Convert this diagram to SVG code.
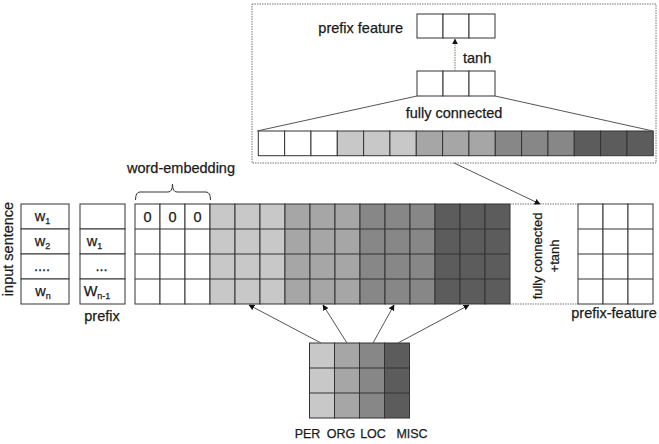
<svg xmlns="http://www.w3.org/2000/svg" width="659" height="444" viewBox="0 0 659 444">
<style>
text{font-family:"Liberation Sans","Open Sans",sans-serif;fill:#1a1a1a;stroke:#1a1a1a;stroke-width:0.25;}
.lbl{font-size:14.5px;}
.cell{stroke:#333;stroke-width:1;}
.w{fill:#fff;}
.c1{fill:#c8c8c8;}
.c2{fill:#a6a6a6;}
.c3{fill:#878787;}
.c4{fill:#5c5c5c;}
.dot{fill:none;stroke:#777;stroke-width:1;stroke-dasharray:1.5 1;}
.conn{fill:none;stroke:#555;stroke-width:1;}
.sub{font-size:9px;}
</style>
<defs>
<marker id="ah" viewBox="0 0 10 10" refX="9" refY="5" markerWidth="6" markerHeight="6" orient="auto-start-reverse" markerUnits="userSpaceOnUse">
<path d="M0,0 L10,5 L0,10 z" fill="#111"/>
</marker>
</defs>
<rect width="659" height="444" fill="#fff"/>

<g id="detail-box">
<rect x="252" y="4" width="404" height="159" class="dot"/>
<g id="prefix-feature-top">
<rect x="417" y="14" width="26" height="24" class="cell w"/>
<rect x="443" y="14" width="26" height="24" class="cell w"/>
<rect x="469" y="14" width="26" height="24" class="cell w"/>
<text x="403" y="33" class="lbl" text-anchor="end">prefix feature</text>
</g>
<g id="hidden-top">
<rect x="417" y="71" width="26" height="25" class="cell w"/>
<rect x="443" y="71" width="26" height="25" class="cell w"/>
<rect x="469" y="71" width="26" height="25" class="cell w"/>
<text x="463" y="63" class="lbl">tanh</text>
<text x="454" y="118" class="lbl" text-anchor="middle">fully connected</text>
</g>
<g id="strip-top">
<rect x="258.3" y="131" width="26.33" height="24.7" class="cell w"/>
<rect x="284.63" y="131" width="26.33" height="24.7" class="cell w"/>
<rect x="310.96" y="131" width="26.33" height="24.7" class="cell w"/>
<rect x="337.29" y="131" width="26.33" height="24.7" class="cell c1"/>
<rect x="363.62" y="131" width="26.33" height="24.7" class="cell c1"/>
<rect x="389.95" y="131" width="26.33" height="24.7" class="cell c1"/>
<rect x="416.28" y="131" width="26.33" height="24.7" class="cell c2"/>
<rect x="442.61" y="131" width="26.33" height="24.7" class="cell c2"/>
<rect x="468.94" y="131" width="26.33" height="24.7" class="cell c2"/>
<rect x="495.27" y="131" width="26.33" height="24.7" class="cell c3"/>
<rect x="521.6" y="131" width="26.33" height="24.7" class="cell c3"/>
<rect x="547.93" y="131" width="26.33" height="24.7" class="cell c3"/>
<rect x="574.26" y="131" width="26.33" height="24.7" class="cell c4"/>
<rect x="600.59" y="131" width="26.33" height="24.7" class="cell c4"/>
<rect x="626.92" y="131" width="26.33" height="24.7" class="cell c4"/>
</g>
</g>

<g id="input-sentence">
<rect x="21" y="204" width="48" height="25" class="cell w"/>
<rect x="21" y="229" width="48" height="25" class="cell w"/>
<rect x="21" y="254" width="48" height="25" class="cell w"/>
<rect x="21" y="279" width="48" height="25" class="cell w"/>
<text x="42.5" y="221" class="lbl" text-anchor="middle" font-size="13.5">w<tspan class="sub" dy="3">1</tspan></text>
<text x="42.5" y="246" class="lbl" text-anchor="middle" font-size="13.5">w<tspan class="sub" dy="3">2</tspan></text>
<text x="42" y="271" class="lbl" text-anchor="middle" font-size="12">....</text>
<text x="43" y="296" class="lbl" text-anchor="middle" font-size="13.5">w<tspan class="sub" dy="3">n</tspan></text>
<text transform="translate(13,249) rotate(-90)" class="lbl" text-anchor="middle" font-size="14">input sentence</text>
</g>

<g id="prefix">
<rect x="80" y="204" width="45" height="25" class="cell w"/>
<rect x="80" y="229" width="45" height="25" class="cell w"/>
<rect x="80" y="254" width="45" height="25" class="cell w"/>
<rect x="80" y="279" width="45" height="25" class="cell w"/>
<text x="94.5" y="246" class="lbl" text-anchor="middle" font-size="13.5">w<tspan class="sub" dy="3">1</tspan></text>
<text x="101.5" y="271" class="lbl" text-anchor="middle" font-size="12">...</text>
<text x="97" y="296" class="lbl" text-anchor="middle" font-size="13.5">W<tspan class="sub" dy="3">n-1</tspan></text>
<text x="102" y="321" class="lbl" text-anchor="middle">prefix</text>
</g>

<g id="word-embedding">
<path d="M135.5,200 Q135.5,192 140,192 L168,192 Q172.5,192 172.5,184 Q172.5,192 177,192 L206,192 Q210.5,192 210.5,200" fill="none" stroke="#333" stroke-width="1"/>
<text x="181" y="173" class="lbl" text-anchor="middle">word-embedding</text>
</g>

<g id="embedding-grid">
<rect x="135" y="204" width="25" height="100" class="cell w"/>
<rect x="160" y="204" width="25" height="100" class="cell w"/>
<rect x="185" y="204" width="25" height="100" class="cell w"/>
<rect x="210" y="204" width="25" height="100" class="cell c1"/>
<rect x="235" y="204" width="25" height="100" class="cell c1"/>
<rect x="260" y="204" width="25" height="100" class="cell c1"/>
<rect x="285" y="204" width="25" height="100" class="cell c2"/>
<rect x="310" y="204" width="25" height="100" class="cell c2"/>
<rect x="335" y="204" width="25" height="100" class="cell c2"/>
<rect x="360" y="204" width="25" height="100" class="cell c3"/>
<rect x="385" y="204" width="25" height="100" class="cell c3"/>
<rect x="410" y="204" width="25" height="100" class="cell c3"/>
<rect x="435" y="204" width="25" height="100" class="cell c4"/>
<rect x="460" y="204" width="25" height="100" class="cell c4"/>
<rect x="485" y="204" width="25" height="100" class="cell c4"/>
<path d="M135,229 H510 M135,254 H510 M135,279 H510" stroke="#333" stroke-width="1"/>
<text x="147.5" y="221.5" class="lbl" text-anchor="middle" font-size="14">0</text>
<text x="172.5" y="221.5" class="lbl" text-anchor="middle" font-size="14">0</text>
<text x="197.5" y="221.5" class="lbl" text-anchor="middle" font-size="14">0</text>
</g>

<g id="fc-tanh">
<path d="M510,204 H578 M510,304 H578" class="dot"/>
<text transform="translate(542,256) rotate(-90)" text-anchor="middle" font-size="13">fully connected</text>
<text transform="translate(559,256) rotate(-90)" text-anchor="middle" font-size="13">+tanh</text>
</g>

<g id="prefix-feature">
<rect x="578" y="204" width="25" height="100" class="cell w"/>
<rect x="603" y="204" width="25" height="100" class="cell w"/>
<rect x="628" y="204" width="25" height="100" class="cell w"/>
<path d="M578,229 H653 M578,254 H653 M578,279 H653" stroke="#333" stroke-width="1"/>
<text x="614" y="318" class="lbl" text-anchor="middle" font-size="14">prefix-feature</text>
</g>

<g id="entity-types">
<rect x="309.5" y="343" width="25" height="75" class="cell c1"/>
<rect x="334.5" y="343" width="25" height="75" class="cell c2"/>
<rect x="359.5" y="343" width="25" height="75" class="cell c3"/>
<rect x="384.5" y="343" width="25" height="75" class="cell c4"/>
<path d="M309.5,368 H409.5 M309.5,393 H409.5" stroke="#333" stroke-width="1"/>
<text x="307.5" y="438" text-anchor="middle" font-size="12.5">PER</text>
<text x="341" y="438" text-anchor="middle" font-size="12.5">ORG</text>
<text x="373" y="438" text-anchor="middle" font-size="12.5">LOC</text>
<text x="412" y="438" text-anchor="middle" font-size="12.5">MISC</text>
</g>

<g id="connectors">
<path d="M455,71 V39" class="dot" stroke="#555" marker-end="url(#ah)"/>
<path d="M417,96 L257,131" class="conn" stroke="#666"/>
<path d="M495,96 L653,131" class="conn" stroke="#666"/>
<path d="M454,163 L540,204" class="conn" marker-end="url(#ah)"/>
<path d="M321,343 L249,305" class="conn" marker-end="url(#ah)"/>
<path d="M347,343 L323,305" class="conn" marker-end="url(#ah)"/>
<path d="M373,343 L394,305" class="conn" marker-end="url(#ah)"/>
<path d="M398,343 L469,305" class="conn" marker-end="url(#ah)"/>
</g>
</svg>
